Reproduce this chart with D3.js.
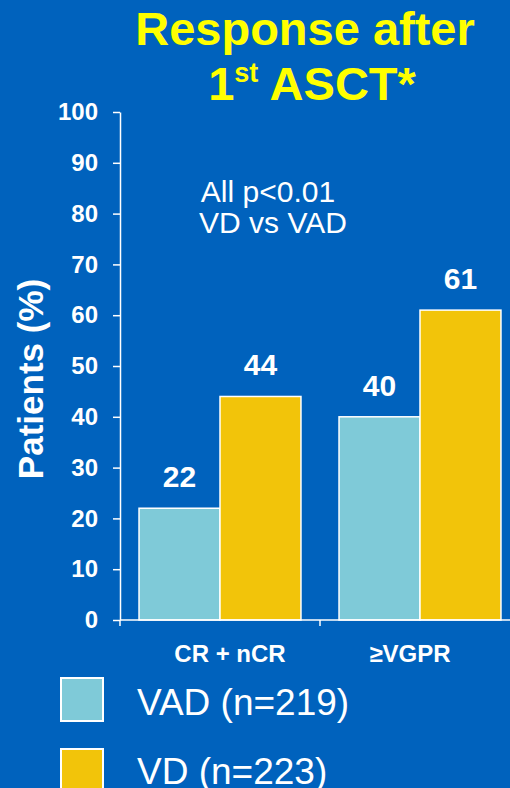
<!DOCTYPE html>
<html>
<head>
<meta charset="utf-8">
<script src="https://cdn.jsdelivr.net/npm/d3@7"></script>
<style>
  html, body { margin: 0; padding: 0; background: #0062bd; }
  svg { display: block; font-family: "Liberation Sans", Arial, sans-serif; }
</style>
</head>
<body>
<svg id="chart" width="510" height="788"></svg>
<script>
// data
var categories = ["CR + nCR", "\u2265VGPR"];
var seriesNames = ["VAD (n=219)", "VD (n=223)"];
var vadValues = [22, 40];
var vdValues = [44, 61];
var yTicks = [0, 10, 20, 30, 40, 50, 60, 70, 80, 90, 100];

var colors = ["#7fcad8", "#f2c40a"];

var svg = d3.select("#chart");
var W = 510, H = 788;

svg.append("rect").attr("width", W).attr("height", H).attr("fill", "#0062bd");

// scales
var y = d3.scaleLinear().domain([0, 100]).range([620, 112]);
var x0 = d3.scaleBand().domain(categories).range([120, 520]).paddingInner(0).paddingOuter(0);
var x1 = d3.scaleBand().domain([0, 1]).range([0, x0.bandwidth()]).paddingInner(0).paddingOuter(0.235);

// title
var title = svg.append("g").attr("fill", "#ffff00").attr("font-weight", "bold").attr("text-anchor", "middle");
title.append("text").attr("x", 305).attr("y", 45).attr("font-size", 47).text("Response after");
var t2 = title.append("text").attr("x", 312).attr("y", 100).attr("font-size", 47);
t2.append("tspan").text("1");
t2.append("tspan").attr("font-size", 27).attr("dy", -18).text("st");
t2.append("tspan").attr("dy", 18).text(" ASCT*");

// y axis
var yAxis = svg.append("g")
  .attr("transform", "translate(120,0)")
  .call(d3.axisLeft(y).tickValues(yTicks).tickSize(7).tickPadding(15).tickSizeOuter(0));
yAxis.select(".domain").attr("stroke", "#fff").attr("stroke-width", 1.5);
yAxis.selectAll(".tick line").attr("stroke", "#fff").attr("stroke-width", 1.5);
yAxis.selectAll(".tick text")
  .attr("fill", "#fff").attr("font-size", 24).attr("font-weight", "bold")
  .attr("font-family", "Liberation Sans, Arial, sans-serif");

// y label
svg.append("text")
  .attr("transform", "translate(43,379) rotate(-90)")
  .attr("text-anchor", "middle")
  .attr("fill", "#fff").attr("font-size", 35).attr("font-weight", "bold")
  .text("Patients (%)");

// p-value note
var note = svg.append("g").attr("fill", "#fff").attr("font-size", 30).attr("text-anchor", "middle");
note.append("text").attr("x", 268).attr("y", 202).text("All p<0.01");
note.append("text").attr("x", 273).attr("y", 233).text("VD vs VAD");

// bars
var rows = categories.map(function(c, i) {
  return { cat: c, vals: [vadValues[i], vdValues[i]] };
});

var groups = svg.selectAll("g.grp").data(rows).enter().append("g")
  .attr("class", "grp")
  .attr("transform", function(d) { return "translate(" + x0(d.cat) + ",0)"; });

groups.selectAll("rect").data(function(d) { return d.vals; }).enter().append("rect")
  .attr("x", function(d, i) { return x1(i); })
  .attr("y", function(d) { return y(d); })
  .attr("width", x1.bandwidth())
  .attr("height", function(d) { return y(0) - y(d); })
  .attr("fill", function(d, i) { return colors[i]; })
  .attr("stroke", "#fff").attr("stroke-width", 1.5);

groups.selectAll("text.val").data(function(d) { return d.vals; }).enter().append("text")
  .attr("class", "val")
  .attr("x", function(d, i) { return x1(i) + x1.bandwidth() / 2; })
  .attr("y", function(d) { return y(d) - 21; })
  .attr("text-anchor", "middle")
  .attr("fill", "#fff").attr("font-size", 30).attr("font-weight", "bold")
  .text(function(d) { return d; });

// x axis line + group dividers
svg.append("line")
  .attr("x1", 120).attr("x2", 520).attr("y1", y(0)).attr("y2", y(0))
  .attr("stroke", "#fff").attr("stroke-width", 1.5);
svg.selectAll("line.div").data(categories).enter().append("line")
  .attr("class", "div")
  .attr("x1", function(d) { return x0(d); }).attr("x2", function(d) { return x0(d); })
  .attr("y1", y(0)).attr("y2", y(0) + 6)
  .attr("stroke", "#fff").attr("stroke-width", 1.5);

svg.selectAll("text.cat").data(categories).enter().append("text")
  .attr("class", "cat")
  .attr("x", function(d, i) { return x0(d) + x0.bandwidth() / 2 + (i === 0 ? 10 : -10); })
  .attr("y", 662)
  .attr("text-anchor", "middle")
  .attr("fill", "#fff").attr("font-size", 24).attr("font-weight", "bold")
  .text(function(d) { return d; });

// legend
var leg = svg.selectAll("g.leg").data(seriesNames).enter().append("g")
  .attr("class", "leg")
  .attr("transform", function(d, i) { return "translate(61," + (678 + i * 71) + ")"; });
leg.append("rect")
  .attr("width", 42).attr("height", 43)
  .attr("fill", function(d, i) { return colors[i]; })
  .attr("stroke", "#fff").attr("stroke-width", 2);
leg.append("text")
  .attr("x", 76).attr("y", function(d, i) { return i === 0 ? 37 : 35; })
  .attr("fill", "#fff").attr("font-size", 37)
  .text(function(d) { return d; });
</script>
</body>
</html>
